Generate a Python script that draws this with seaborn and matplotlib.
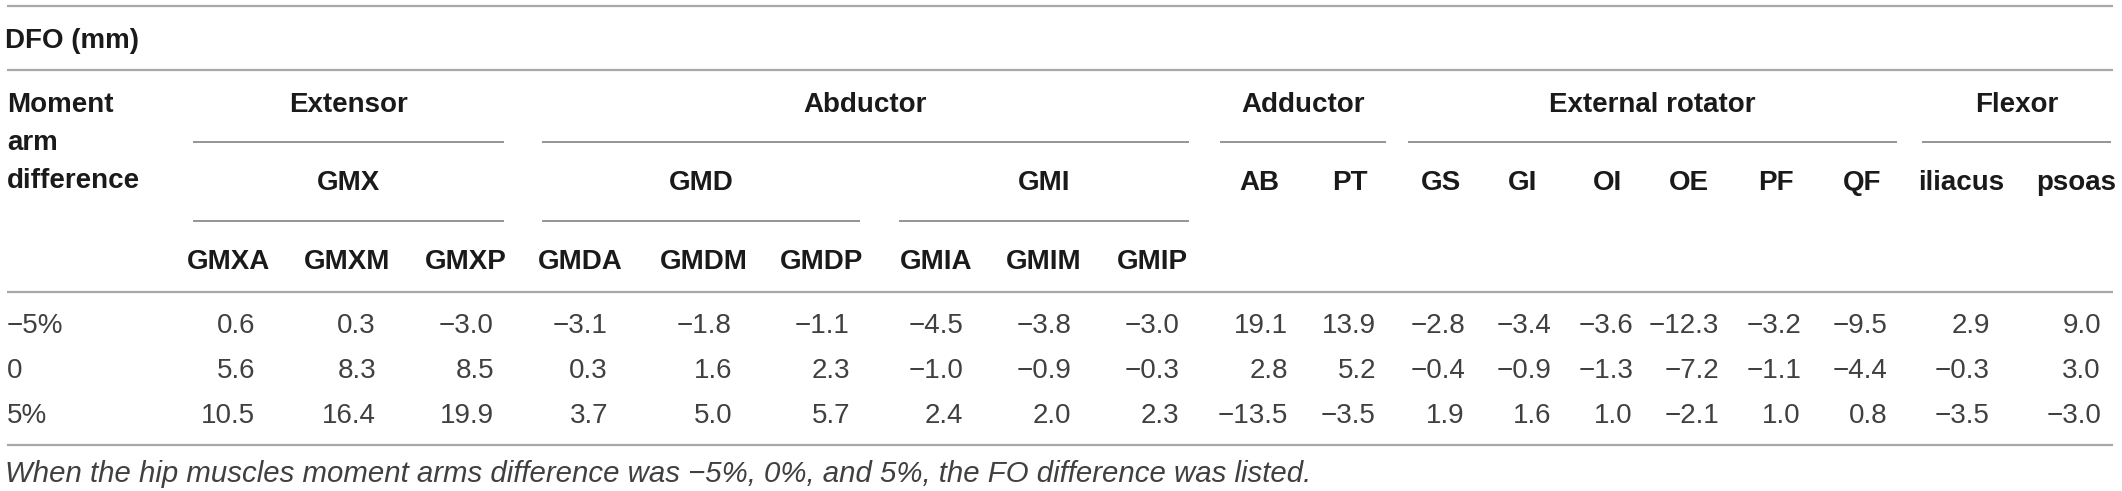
import matplotlib
matplotlib.use("Agg")
import matplotlib.pyplot as plt
import seaborn as sns

# ---------------- data ----------------
title = "DFO (mm)"
row_header = ["Moment", "arm", "difference"]
groups = ["Extensor", "Abductor", "Adductor", "External rotator", "Flexor"]
group_cols = [(0, 2), (3, 8), (9, 10), (11, 16), (17, 18)]
subgroups = ["GMX", "GMD", "GMI"]
subgroup_cols = [(0, 2), (3, 5), (6, 8)]
columns = ["GMXA", "GMXM", "GMXP", "GMDA", "GMDM", "GMDP", "GMIA", "GMIM", "GMIP",
           "AB", "PT", "GS", "GI", "OI", "OE", "PF", "QF", "iliacus", "psoas"]
row_labels = ["\u22125%", "0", "5%"]
values_m5 = [0.6, 0.3, -3.0, -3.1, -1.8, -1.1, -4.5, -3.8, -3.0, 19.1, 13.9,
             -2.8, -3.4, -3.6, -12.3, -3.2, -9.5, 2.9, 9.0]
values_0 = [5.6, 8.3, 8.5, 0.3, 1.6, 2.3, -1.0, -0.9, -0.3, 2.8, 5.2,
            -0.4, -0.9, -1.3, -7.2, -1.1, -4.4, -0.3, 3.0]
values_p5 = [10.5, 16.4, 19.9, 3.7, 5.0, 5.7, 2.4, 2.0, 2.3, -13.5, -3.5,
             1.9, 1.6, 1.0, -2.1, 1.0, 0.8, -3.5, -3.0]
footnote = ("When the hip muscles moment arms difference was \u22125%, 0%, and 5%, "
            "the FO difference was listed.")

# ---------------- layout (pixels) ----------------
W, H = 2122, 491
col_left = [193, 308, 428, 542, 666, 784, 899, 1007, 1115, 1220, 1314, 1408,
            1485, 1571, 1649, 1741, 1827, 1922, 2041]
col_right = [265, 386, 504, 618, 742, 860, 973, 1081, 1189, 1298, 1386, 1475,
             1561, 1643, 1729, 1811, 1897, 2000, 2111]
pad = 10
x_left, x_right = 7, 2113
y_top, y_title, y_rule1 = 6, 38, 70
y_grp, y_grp_line, y_sub, y_sub_line, y_col, y_rule2 = 102, 142, 180, 221, 259, 292
y_rows = [323, 368, 413]
y_rule3, y_foot = 445, 472
row_header_y = [102, 140, 178]
fs = 20
fs_foot = 21.2
cap = 10  # half cap height in px

sns.set_theme(style="white")
plt.rcParams["font.family"] = ["Liberation Sans", "DejaVu Sans"]

fig = plt.figure(figsize=(W / 100, H / 100), dpi=100)
ax = fig.add_axes([0, 0, 1, 1])
ax.set_xlim(0, W)
ax.set_ylim(H, 0)
ax.axis("off")

head_c = "#1a1a1a"
body_c = "#404040"
rule_c = "#a8a8a8"
sub_c = "#8c8c8c"

def txt(x, y, s, ha="left", bold=False, italic=False, color=head_c, size=fs):
    ax.text(x, y + cap, s, ha=ha, va="baseline", fontsize=size,
            fontweight="bold" if bold else "normal",
            fontstyle="italic" if italic else "normal", color=color)

# full-width rules
for y in (y_top, y_rule1, y_rule2, y_rule3):
    ax.hlines(y, x_left, x_right, colors=rule_c, linewidth=1.6)

txt(x_left - 2, y_title, title, bold=True)
for s, y in zip(row_header, row_header_y):
    txt(x_left, y, s, bold=True)

def center(a, b):
    return (col_left[a] + col_right[b]) / 2

for g, (a, b) in zip(groups, group_cols):
    txt(center(a, b), y_grp, g, ha="center", bold=True)
    ax.hlines(y_grp_line, col_left[a], col_right[b], colors=sub_c, linewidth=1.3)

covered = set()
for g, (a, b) in zip(subgroups, subgroup_cols):
    txt(center(a, b), y_sub, g, ha="center", bold=True)
    ax.hlines(y_sub_line, col_left[a], col_right[b], colors=sub_c, linewidth=1.3)
    covered.update(range(a, b + 1))

for i, c in enumerate(columns):
    y = y_col if i in covered else y_sub
    txt(center(i, i), y, c, ha="center", bold=True)

def fmt(v):
    return f"{v:.1f}".replace("-", "\u2212")

for lab, vals, y in zip(row_labels, [values_m5, values_0, values_p5], y_rows):
    txt(x_left, y, lab, color=body_c)
    for i, v in enumerate(vals):
        txt(col_right[i] - pad, y, fmt(v), ha="right", color=body_c)

txt(x_left - 2, y_foot, footnote, italic=True, color=body_c, size=fs_foot)

fig.savefig("out.png", dpi=100, facecolor="white")
